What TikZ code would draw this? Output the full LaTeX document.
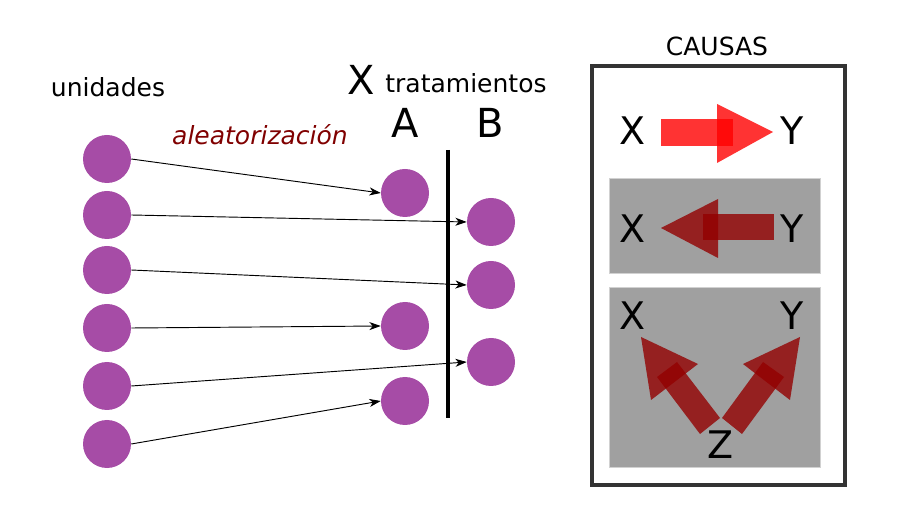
\documentclass[tikz,border=0pt]{standalone}
\usepackage{xcolor}
\usepackage{fontspec}
\setmainfont{DejaVu Sans}
\usepackage{tikz}
\usetikzlibrary{arrows.meta}

\definecolor{unidad}{RGB}{166,76,166}
\definecolor{rojo}{RGB}{128,0,0}
\definecolor{panel}{RGB}{160,160,160}
\definecolor{marco}{RGB}{51,51,51}

\begin{document}
\begin{tikzpicture}[x=0.75pt,y=-0.75pt,
    unidad/.style={circle,fill=unidad,draw=none,minimum size=36pt,inner sep=0pt},
    asigna/.style={-{Stealth[length=8.5pt,width=6pt,inset=2.5pt]},line width=0.7pt},
    texto/.style={anchor=base,inner sep=0pt,font=\fontsize{18.75}{22}\selectfont},
    grande/.style={anchor=base,inner sep=0pt,font=\fontsize{30}{34}\selectfont},
    letra/.style={inner sep=0pt,font=\fontsize{28.5}{32}\selectfont},
    flecha/.style={draw=none,fill=red,fill opacity=0.8},
    flechaosc/.style={draw=none,fill=rojo!85!red,fill opacity=0.8}]
    \useasboundingbox (0,0) rectangle (899,530);

    % textos
    \node[texto] (unid) at (108,97) {unidades};
    \node[texto,text=rojo,font=\fontsize{18.75}{22}\selectfont\itshape] (aleat) at (260,145) {aleatorización};
    \node[grande] (x) at (361,95) {X};
    \node[texto] (trat) at (466,93) {tratamientos};
    \node[grande] (ta) at (405,138) {A};
    \node[grande] (tb) at (490,138) {B};

    % unidades
    \node[unidad] (l1) at (107,159) {};
    \node[unidad] (l2) at (107,215) {};
    \node[unidad] (l3) at (107,270) {};
    \node[unidad] (l4) at (107,328) {};
    \node[unidad] (l5) at (107,386) {};
    \node[unidad] (l6) at (107,444) {};

    \node[unidad] (a1) at (405,193) {};
    \node[unidad] (a2) at (405,326) {};
    \node[unidad] (a3) at (405,401) {};

    \node[unidad] (b1) at (491,222) {};
    \node[unidad] (b2) at (491,285) {};
    \node[unidad] (b3) at (491,362) {};

    \draw[line width=3pt] (448,150) -- (448,418);

    \draw[asigna] (l1.east) -- (a1.west);
    \draw[asigna] (l2.east) -- (b1.west);
    \draw[asigna] (l3.east) -- (b2.west);
    \draw[asigna] (l4.east) -- (a2.west);
    \draw[asigna] (l5.east) -- (b3.west);
    \draw[asigna] (l6.east) -- (a3.west);

    % causas
    \node[texto] (causas) at (717,56) {CAUSAS};
    \draw[line width=3.2pt,marco] (592,66) rectangle (845,485);
    \fill[panel,draw=black!18,line width=0.75pt] (609,179) rectangle (820,274);
    \fill[panel,draw=black!18,line width=0.75pt] (609,288) rectangle (820,467);

    \node[letra] (x1) at (633,131) {X};
    \node[letra] (y1) at (792,131) {Y};
    \fill[flecha] (661,119) rectangle (733,146);
    \fill[flecha] (717,104) -- (773,132) -- (717,163) -- cycle;

    \node[letra] (x2) at (633,229) {X};
    \node[letra] (y2) at (792,229) {Y};
    \fill[flechaosc] (703,214) rectangle (774,240);
    \fill[flechaosc] (718,199) -- (661,228) -- (718,258) -- cycle;

    \node[letra] (x3) at (633,316) {X};
    \node[letra] (y3) at (792,316) {Y};
    \node[letra] (z3) at (721,445) {Z};
    \fill[flechaosc] (657,377) -- (677,362) -- (720,418) -- (700,434) -- cycle;
    \fill[flechaosc] (641,337) -- (698,364) -- (651,400) -- cycle;
    \fill[flechaosc] (763,362) -- (784,377) -- (742,434) -- (722,418) -- cycle;
    \fill[flechaosc] (800,337) -- (743,364) -- (790,400) -- cycle;
  \end{tikzpicture}
\end{document}
